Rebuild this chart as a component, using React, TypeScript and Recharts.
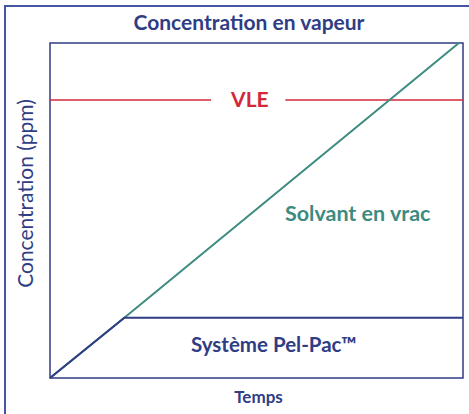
import { LineChart, Line, XAxis, YAxis, ReferenceArea, ReferenceLine, ReferenceDot } from "recharts";

// ---------------------------------------------------------------------------
// Data (time and concentration in relative units, 0–100)
// ---------------------------------------------------------------------------

const temps = [0, 18, 99, 100];
const solvantEnVrac = [0, 18, 100, null];
const systemePelPac = [0, 18, 18, 18];
const vle = 83;
const vleGap = [39, 57];

const NAVY = "#2f3d84";
const TEAL = "#3d8b80";
const RED = "#d3273a";
const FONT = "Lato, 'Open Sans', sans-serif";

const chartData = temps.map((t, i) => ({
  t,
  solvant: solvantEnVrac[i],
  pelPac: systemePelPac[i],
}));

// ---------------------------------------------------------------------------
// Axis titles
// ---------------------------------------------------------------------------

function YTitle({ viewBox }: { viewBox?: { x: number; y: number; width: number; height: number } }) {
  if (!viewBox) return null;
  const cx = viewBox.x + 14;
  const cy = viewBox.y + viewBox.height / 2 - 17;
  return (
    <text
      x={cx}
      y={cy}
      transform={`rotate(-90 ${cx} ${cy})`}
      textAnchor="middle"
      dominantBaseline="central"
      fill={NAVY}
      fontFamily={FONT}
      fontSize={21}
    >
      Concentration (ppm)
    </text>
  );
}

function XTitle({ viewBox }: { viewBox?: { x: number; y: number; width: number; height: number } }) {
  if (!viewBox) return null;
  return (
    <text
      x={viewBox.x + viewBox.width / 2 + 2}
      y={viewBox.y + 25}
      textAnchor="middle"
      fill={NAVY}
      fontFamily={FONT}
      fontSize={17}
      fontWeight={700}
    >
      Temps
    </text>
  );
}

// ---------------------------------------------------------------------------
// Component
// ---------------------------------------------------------------------------

export default function App() {
  return (
    <div
      style={{
        position: "absolute",
        left: 0,
        top: 0,
        width: 469,
        height: 414,
        background: "#fff",
        overflow: "hidden",
        fontFamily: FONT,
      }}
    >
      <div
        style={{
          position: "absolute",
          left: 4,
          top: 5,
          width: 480,
          height: 430,
          border: "2px solid #4756a0",
          boxSizing: "border-box",
        }}
      />
      <div
        style={{
          position: "absolute",
          left: 0,
          top: 8,
          width: 498,
          textAlign: "center",
          color: NAVY,
          fontSize: 21,
          fontWeight: 700,
          lineHeight: "28px",
        }}
      >
        Concentration en vapeur
      </div>
      <div style={{ position: "absolute", left: 0, top: 0 }}>
        <LineChart
          width={469}
          height={414}
          data={chartData}
          margin={{ top: 43, right: 6, bottom: 0, left: 10 }}
        >
          <XAxis
            dataKey="t"
            type="number"
            domain={[0, 100]}
            height={36}
            tick={false}
            tickLine={false}
            axisLine={false}
            label={<XTitle />}
          />
          <YAxis
            type="number"
            domain={[0, 100]}
            width={40}
            tick={false}
            tickLine={false}
            axisLine={false}
            label={<YTitle />}
          />
          <ReferenceArea
            x1={0}
            x2={100}
            y1={0}
            y2={100}
            fill="none"
            stroke={NAVY}
            strokeWidth={1.5}
          />
          <ReferenceLine
            segment={[
              { x: 0, y: vle },
              { x: vleGap[0], y: vle },
            ]}
            stroke={RED}
            strokeWidth={1.5}
          />
          <ReferenceLine
            segment={[
              { x: vleGap[1], y: vle },
              { x: 100, y: vle },
            ]}
            stroke={RED}
            strokeWidth={1.5}
          />
          <ReferenceDot
            x={48.4}
            y={vle}
            r={0}
            fill="none"
            stroke="none"
            label={{ value: "VLE", position: "center", fill: RED, fontSize: 21, fontWeight: 700, fontFamily: FONT }}
          />
          <Line
            type="linear"
            dataKey="solvant"
            stroke={TEAL}
            strokeWidth={2}
            dot={false}
            isAnimationActive={false}
          />
          <Line
            type="linear"
            dataKey="pelPac"
            stroke={NAVY}
            strokeWidth={2}
            dot={false}
            isAnimationActive={false}
          />
          <ReferenceDot
            x={74.5}
            y={49}
            r={0}
            fill="none"
            stroke="none"
            label={{ value: "Solvant en vrac", position: "center", fill: TEAL, fontSize: 21.5, fontWeight: 700, fontFamily: FONT }}
          />
          <ReferenceDot
            x={54.2}
            y={10}
            r={0}
            fill="none"
            stroke="none"
            label={{ value: "Système Pel-Pac™", position: "center", fill: NAVY, fontSize: 20.5, fontWeight: 700, fontFamily: FONT }}
          />
        </LineChart>
      </div>
    </div>
  );
}
